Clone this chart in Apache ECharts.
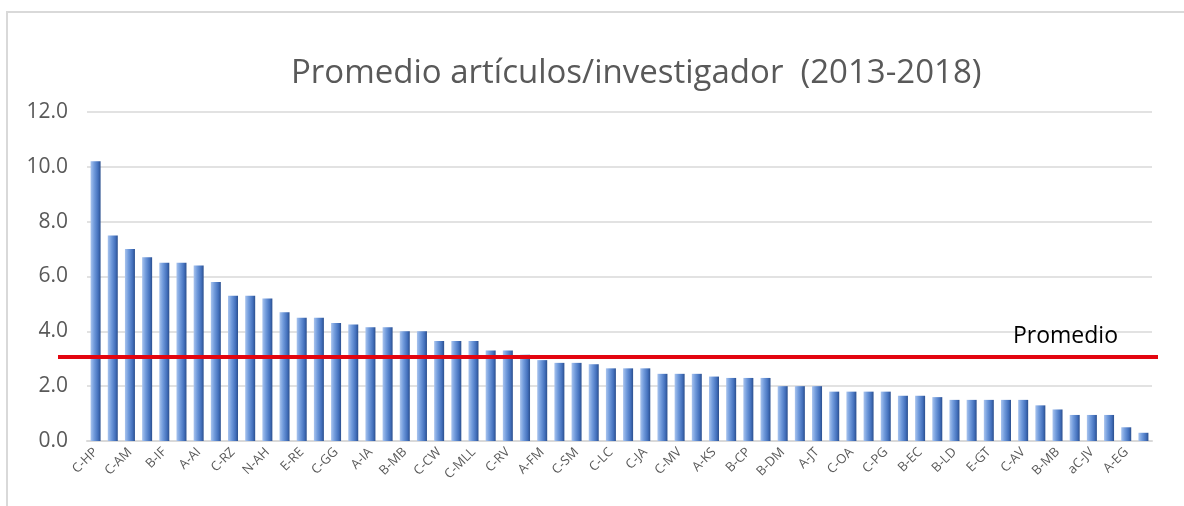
<!DOCTYPE html>
<html>
<head>
<meta charset="utf-8">
<script src="https://cdn.jsdelivr.net/npm/echarts@6/dist/echarts.min.js"></script>
<style>
  html, body { margin: 0; padding: 0; background: #fff; }
  #frame { position: absolute; left: 6px; top: 11px; width: 1200px; height: 520px;
           border-top: 2px solid #d9d9d9; border-left: 2px solid #d9d9d9; }
  #chart { position: absolute; left: 0; top: 0; width: 1184px; height: 506px; }
</style>
</head>
<body>
<div id="frame"></div>
<div id="chart"></div>
<script>
// every other bar carries a label in the source, the rest are blank
const shownNames = ['C-HP', 'C-AM', 'B-IF', 'A-AI', 'C-RZ', 'N-AH', 'E-RE', 'C-GG', 'A-IA', 'B-MB',
  'C-CW', 'C-MLL', 'C-RV', 'A-FM', 'C-SM', 'C-LC', 'C-JA', 'C-MV', 'A-KS', 'B-CP',
  'B-DM', 'A-JT', 'C-OA', 'C-PG', 'B-EC', 'B-LD', 'E-GT', 'C-AV', 'B-MB', 'aC-JV', 'A-EG'];

const promedioArticulos = [
  10.2, 7.5, 7.0, 6.7, 6.5, 6.5, 6.4, 5.8, 5.3, 5.3,
  5.2, 4.7, 4.5, 4.5, 4.3, 4.25, 4.15, 4.15, 4.0, 4.0,
  3.65, 3.65, 3.65, 3.3, 3.3, 3.15, 2.95, 2.85, 2.85, 2.8,
  2.65, 2.65, 2.65, 2.45, 2.45, 2.45, 2.35, 2.3, 2.3, 2.3,
  2.0, 2.0, 2.0, 1.8, 1.8, 1.8, 1.8, 1.65, 1.65, 1.6,
  1.5, 1.5, 1.5, 1.5, 1.5, 1.3, 1.15, 0.95, 0.95, 0.95,
  0.5, 0.3
];

const promedio = 3.07;
const yTicks = [0, 2, 4, 6, 8, 10, 12];

const categories = promedioArticulos.map((v, i) => (i % 2 === 0 ? shownNames[i / 2] : ''));

const chart = echarts.init(document.getElementById('chart'));
const grey = '#595959';
const font = 'Open Sans';

chart.setOption({
  animation: false,
  title: {
    text: 'Promedio artículos/investigador  (2013-2018)',
    left: 286,
    top: 52,
    textStyle: { fontFamily: font, fontSize: 33, fontWeight: 'normal', color: grey }
  },
  grid: { left: 87, right: 32, top: 112, bottom: 65 },
  xAxis: {
    type: 'category',
    data: categories,
    axisLine: { lineStyle: { color: '#d9d9d9', width: 2 } },
    axisTick: { show: false },
    axisLabel: {
      interval: 0,
      rotate: 45,
      margin: 9,
      fontFamily: font,
      fontSize: 13,
      color: grey
    }
  },
  yAxis: {
    type: 'value',
    min: yTicks[0],
    max: yTicks[yTicks.length - 1],
    interval: 2,
    axisLine: { show: false },
    axisTick: { show: false },
    splitLine: { lineStyle: { color: '#d9d9d9', width: 1.5 } },
    axisLabel: {
      margin: 19,
      fontFamily: font,
      fontSize: 21,
      color: grey,
      formatter: v => v.toFixed(1)
    }
  },
  series: [{
    type: 'bar',
    data: promedioArticulos,
    barWidth: 10,
    itemStyle: {
      color: new echarts.graphic.LinearGradient(0, 0, 1, 0, [
        { offset: 0, color: '#a9c4ee' },
        { offset: 0.35, color: '#719bdc' },
        { offset: 0.75, color: '#4471bd' },
        { offset: 1, color: '#2b4f8e' }
      ])
    },
    markLine: {
      silent: true,
      symbol: 'none',
      lineStyle: { color: '#e3050f', width: 4, type: 'solid' },
      label: {
        show: true,
        position: 'insideEndTop',
        formatter: 'Promedio',
        fontFamily: font,
        fontSize: 23,
        color: '#000',
        distance: [40, 9]
      },
      data: [[{ x: 58, yAxis: promedio }, { x: 1158, yAxis: promedio }]]
    }
  }]
});
</script>
</body>
</html>
